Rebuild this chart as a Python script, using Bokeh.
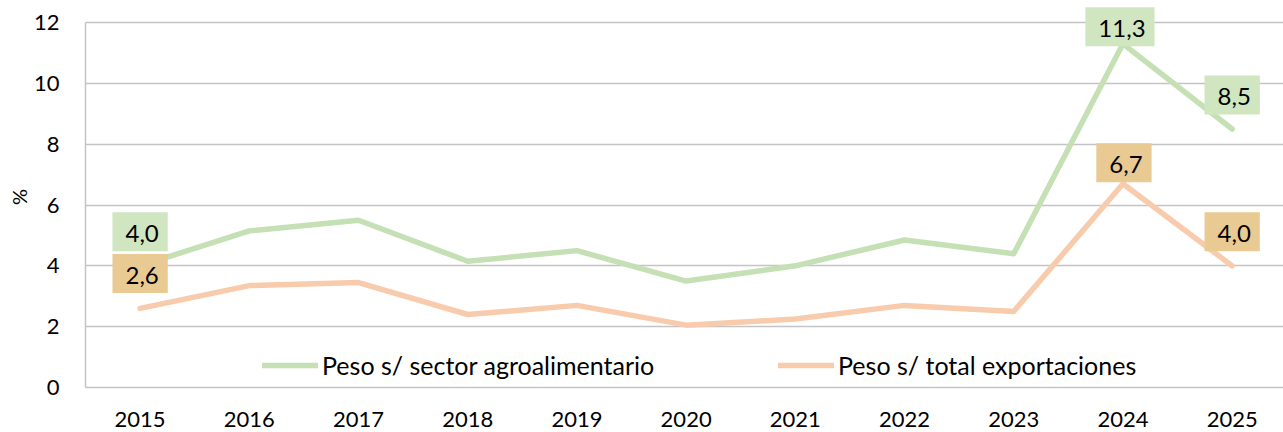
from bokeh.plotting import figure
from bokeh.models import (Range1d, FixedTicker, Legend, LegendItem, Label)
from bokeh.embed import file_html
from bokeh.resources import INLINE

years = ["2015", "2016", "2017", "2018", "2019", "2020", "2021", "2022", "2023", "2024", "2025"]
agro = [4.0, 5.15, 5.5, 4.15, 4.5, 3.5, 4.0, 4.85, 4.4, 11.3, 8.5]
total = [2.6, 3.35, 3.45, 2.4, 2.7, 2.05, 2.25, 2.7, 2.5, 6.7, 4.0]
labelled = [0, 9, 10]
series_names = ["Peso s/ sector agroalimentario", "Peso s/ total exportaciones"]
y_ticks = [0, 2, 4, 6, 8, 10, 12]

FONT = "Lato"
GREEN = "#c5e0b4"
ORANGE = "#f8cbad"
GRID = "#c4c4c4"

xs = list(range(len(years)))
y_top = y_ticks[-1]

# frame top sits a little above the last gridline so the top data label fits
p = figure(width=1283, height=432, output_backend="svg", toolbar_location=None,
           x_range=Range1d(-0.5, 10.47), y_range=Range1d(0, y_top + 0.527),
           min_border_left=85, min_border_right=0, min_border_top=6, min_border_bottom=45)
p.outline_line_color = None
p.background_fill_color = "white"

# axes
p.xaxis.ticker = FixedTicker(ticks=xs)
p.xaxis.major_label_overrides = {i: y for i, y in enumerate(years)}
p.yaxis.ticker = FixedTicker(ticks=y_ticks)
p.yaxis.bounds = (0, y_top)
for ax in (p.xaxis[0], p.yaxis[0]):
    ax.axis_line_color = GRID
    ax.axis_line_width = 1.5
    ax.major_tick_line_color = None
    ax.minor_tick_line_color = None
    ax.major_tick_out = 0
    ax.major_tick_in = 0
    ax.major_label_text_font = FONT
    ax.major_label_text_font_size = "22px"
    ax.major_label_text_color = "black"
p.xaxis.major_label_standoff = 24
p.yaxis.major_label_standoff = 26
p.yaxis.axis_label = "%"
p.yaxis.axis_label_text_font = FONT
p.yaxis.axis_label_text_font_size = "20px"
p.yaxis.axis_label_text_font_style = "normal"
p.yaxis.axis_label_text_color = "black"
p.yaxis.axis_label_standoff = 0

p.xgrid.grid_line_color = None
p.ygrid.grid_line_color = GRID
p.ygrid.grid_line_width = 1.5

# lines
r1 = p.line(xs, agro, line_color=GREEN, line_width=5.5, line_cap="round", line_join="round")
r2 = p.line(xs, total, line_color=ORANGE, line_width=5.5, line_cap="round", line_join="round")

# data labels
def fmt(v):
    return f"{v:.1f}".replace(".", ",")

label_specs = [
    (agro, "#cfe6c0", [34, 17, 34], [0, -3, 0]),
    (total, "#e9ca93", [35, 21, 34], [0, 1, 0]),
]
for vals, fill, yoffs, xoffs in label_specs:
    for i, yo, xo in zip(labelled, yoffs, xoffs):
        p.add_layout(Label(x=xs[i], y=vals[i], text=fmt(vals[i]), y_offset=yo, x_offset=xo,
                           text_align="center", text_baseline="middle",
                           text_font=FONT, text_font_size="24px", text_color="black",
                           background_fill_color=fill, padding=[13, 9, 13, 9]))

# legends
for r, name, xloc in [(r1, series_names[0], 177), (r2, series_names[1], 693)]:
    lg = Legend(items=[LegendItem(label=name, renderers=[r])], location=(xloc, 7),
                orientation="horizontal", padding=0, margin=0, border_line_alpha=0,
                background_fill_alpha=0, glyph_width=56, glyph_height=24, label_height=24,
                label_standoff=4, label_text_font=FONT, label_text_font_size="25px",
                label_text_color="black")
    p.add_layout(lg, "center")

open("out.html", "w").write(file_html(p, INLINE))
